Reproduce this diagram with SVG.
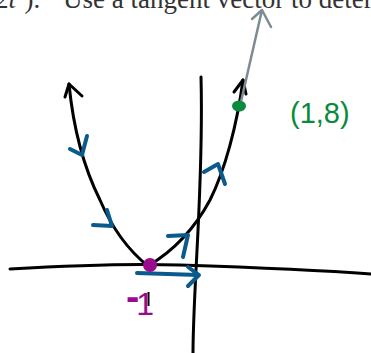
<svg xmlns="http://www.w3.org/2000/svg" width="371" height="353" viewBox="0 0 371 353">
<style>
.ink{fill:none;stroke:#000;stroke-width:3;stroke-linecap:round;stroke-linejoin:round}
.blue{fill:none;stroke:#0b5a8e;stroke-width:4;stroke-linecap:round;stroke-linejoin:round}
.grey{fill:none;stroke:#7d8b93;stroke-width:2.5;stroke-linecap:round;stroke-linejoin:round}
.hdr{font-family:"Liberation Serif",serif;font-size:27px;fill:#333}
</style>
<rect width="371" height="353" fill="#fff"/>
<g id="header">
<text class="hdr" x="-5" y="8">2<tspan font-style="italic">t</tspan><tspan dy="-10" font-size="17">2</tspan><tspan dy="10">).</tspan></text>
<text class="hdr" x="63" y="8">Use a tangent vector to deter</text>
</g>
<g id="axes">
<path class="ink" d="M201,77 C203,150 198,230 196,270 S193,340 193,353"/>
<path class="ink" d="M10,269 C60,266 120,263 180,265 S330,271 371,274"/>
</g>
<g id="curve">
<path class="ink" d="M69,84 C72,115 80,160 100,200 C112,228 128,250 148,266 C175,250 195,228 210,200 C225,170 237,125 243,80"/>
<path class="ink" d="M65,97 L69,84 L82,96"/>
<path class="ink" d="M234,92 L243,80 L246,94"/>
</g>
<g id="connectors">
<path class="blue" d="M70,149 L82,155 L87,136"/>
<path class="blue" d="M93,225 L112,226 L107,210"/>
<path class="blue" d="M168,236 L188,235 L183,257"/>
<path class="blue" d="M204,172 L218,164 L225,184"/>
<path class="blue" d="M137,273 L198,275 M188,267 L199,275 L188,286"/>
<path class="grey" d="M240,106 L262,10 M252,19 L262,10 L271,27"/>
</g>
<g id="point-start">
<circle cx="150" cy="265" r="7" fill="#990a8c"/>
<path d="M148.5,292 L148.5,306" stroke="#000" stroke-width="2"/>
<text x="126" y="315" font-family="Liberation Sans,sans-serif" font-size="32" fill="#990a8c" letter-spacing="-3"><tspan dy="-5" font-size="40" font-weight="bold">-</tspan><tspan dy="5">1</tspan></text>
</g>
<g id="point-end">
<ellipse cx="239" cy="106" rx="7" ry="5.5" fill="#0a8a3c"/>
<text x="290" y="123" font-family="Liberation Sans,sans-serif" font-size="29" fill="#0a8a3c">(1,8)</text>
</g>
</svg>
